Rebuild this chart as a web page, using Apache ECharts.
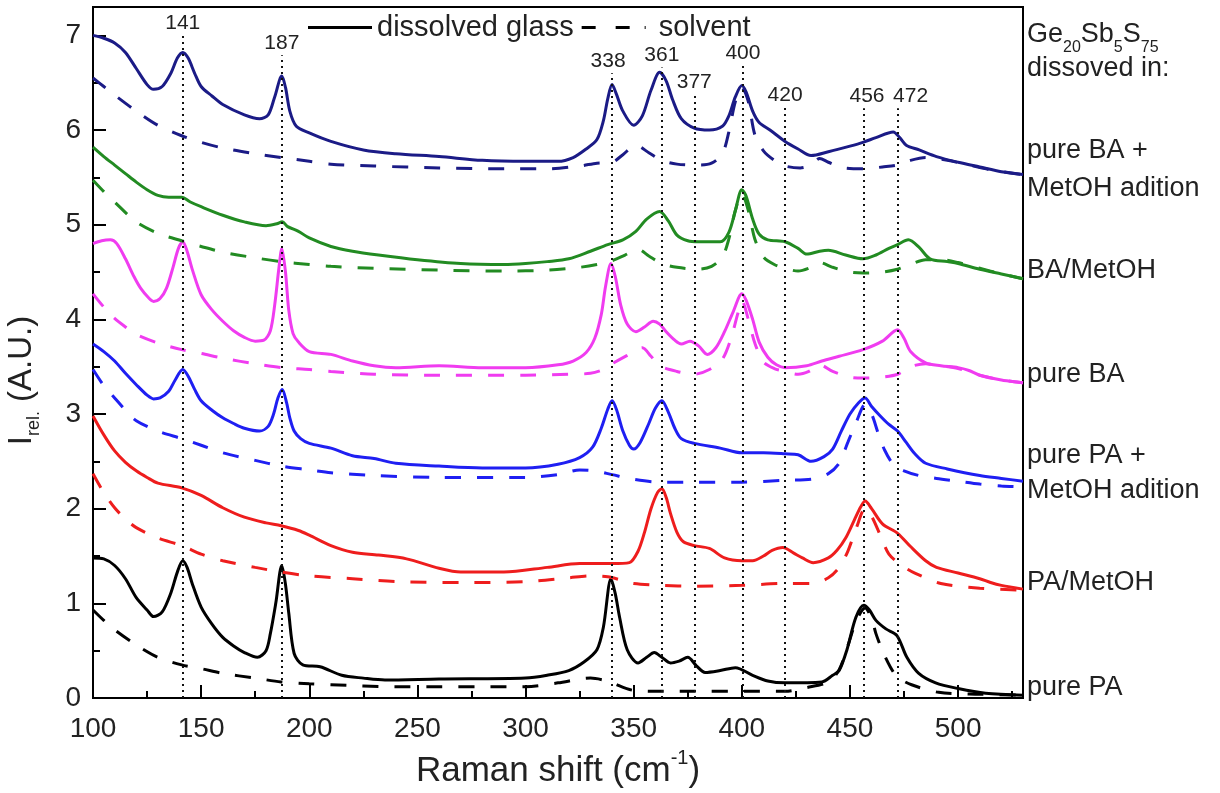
<!DOCTYPE html>
<html>
<head>
<meta charset="utf-8">
<title>Raman spectra of Ge20Sb5S75 solutions</title>
<script src="https://cdn.jsdelivr.net/npm/echarts@6/dist/echarts.min.js"></script>
<style>
  html, body { margin: 0; padding: 0; background: #fff; }
  #chart { width: 1220px; height: 793px; }
</style>
</head>
<body>
<div id="chart"></div>
<script>
// Raman shift (cm-1) vs relative intensity, each curve as [shift, intensity]
const glassPA = [[100,1.48],[105,1.47],[110,1.4],[115,1.26],[120,1.06],[125,0.93],[128,0.86],[132,0.91],[136,1.11],[139,1.33],[141.5,1.45],[143.5,1.38],[146,1.2],[150,0.96],[155,0.78],[160,0.64],[165,0.55],[170,0.48],[176,0.43],[180,0.5],[182,0.68],[184.5,1.0],[187.3,1.4],[189,1.2],[190.5,0.9],[193,0.47],[197,0.35],[205,0.33],[215,0.24],[225,0.21],[235,0.19],[260,0.2],[300,0.21],[310,0.24],[320,0.29],[327,0.38],[333,0.51],[336,0.75],[339.5,1.26],[341.5,1.1],[343.5,0.85],[347,0.51],[352,0.37],[356,0.43],[359.5,0.48],[363,0.43],[367,0.37],[371,0.39],[375,0.43],[379,0.34],[383,0.27],[390,0.29],[397,0.32],[405,0.24],[412,0.18],[420,0.16],[437,0.17],[442,0.24],[445,0.29],[448.6,0.51],[452.7,0.85],[456.4,0.98],[459,0.93],[462,0.82],[466.6,0.73],[471.7,0.66],[476.3,0.43],[481.8,0.26],[489.6,0.16],[500,0.1],[512.7,0.05],[530,0.03]];
const solventPA = [[100,0.93],[105,0.82],[110,0.72],[120,0.56],[130,0.43],[141,0.35],[150,0.31],[160,0.26],[175,0.21],[187,0.17],[200,0.15],[210,0.14],[240,0.12],[300,0.12],[315,0.16],[325,0.2],[330,0.21],[336,0.19],[340,0.16],[350,0.08],[363,0.07],[420,0.07],[430,0.11],[440,0.17],[445,0.3],[449,0.55],[453,0.82],[457,0.95],[460,0.84],[462,0.68],[465,0.5],[468.6,0.33],[472,0.22],[478.5,0.14],[491,0.06],[510,0.04],[530,0.03]];

const glassPAMet = [[100,2.98],[105,2.78],[110,2.61],[115,2.49],[120,2.4],[125,2.33],[130,2.27],[141,2.22],[150,2.14],[160,2.01],[170,1.91],[180,1.85],[187,1.82],[195,1.77],[200,1.72],[210,1.61],[220,1.54],[232,1.51],[245,1.47],[260,1.37],[270,1.33],[290,1.33],[310,1.38],[325,1.42],[340,1.42],[348,1.43],[352,1.55],[355,1.75],[358,2.0],[361,2.17],[363,2.21],[365,2.12],[367,1.95],[370,1.75],[373,1.65],[378,1.61],[385,1.58],[392,1.48],[400,1.45],[405,1.45],[410,1.5],[414,1.56],[419,1.59],[424,1.53],[428,1.48],[433,1.43],[440,1.48],[444,1.56],[448,1.69],[452,1.88],[455,2.02],[457,2.08],[460,2.0],[465,1.84],[472,1.74],[478,1.6],[485,1.45],[490,1.38],[500,1.32],[510,1.26],[515,1.22],[520,1.19],[530,1.15]];
const solventPAMet = [[100,2.37],[105,2.17],[110,2.01],[115,1.89],[120,1.8],[130,1.69],[141,1.61],[150,1.52],[160,1.45],[175,1.38],[187,1.33],[200,1.29],[220,1.26],[240,1.23],[270,1.22],[300,1.23],[320,1.27],[330,1.29],[338,1.28],[345,1.24],[350,1.21],[363,1.19],[378,1.18],[400,1.19],[420,1.21],[433,1.21],[440,1.27],[445,1.38],[449,1.55],[453,1.8],[457,2.0],[460,1.92],[464,1.72],[468,1.52],[474,1.4],[480,1.32],[492,1.21],[510,1.16],[530,1.14]];

const glassPAadd = [[100,3.74],[105,3.66],[110,3.56],[115,3.43],[120,3.31],[125,3.2],[128,3.16],[131,3.17],[135,3.24],[138,3.36],[141.5,3.47],[144,3.4],[147,3.26],[150,3.14],[155,3.04],[160,2.96],[165,2.9],[170,2.85],[177,2.82],[181,2.87],[183.5,3.0],[185.5,3.17],[187.5,3.26],[189.5,3.12],[191,2.96],[193,2.82],[196,2.74],[200,2.69],[210,2.64],[220,2.56],[230,2.53],[240,2.48],[260,2.45],[280,2.43],[300,2.43],[315,2.47],[325,2.54],[331,2.65],[335,2.85],[338,3.05],[340,3.14],[342,3.05],[345,2.82],[348,2.67],[350,2.63],[353,2.7],[357,2.9],[360,3.06],[363,3.14],[366,3.02],[369,2.85],[372,2.74],[378,2.69],[390,2.64],[400,2.59],[410,2.59],[420,2.58],[426,2.57],[432,2.5],[438,2.55],[442,2.63],[446,2.82],[450,3.0],[454,3.12],[457,3.17],[460,3.08],[464,2.98],[468,2.89],[472,2.82],[476,2.7],[480,2.58],[485,2.48],[495,2.42],[510,2.35],[520,2.32],[530,2.29]];
const solventPAadd = [[100,3.47],[105,3.3],[110,3.17],[115,3.04],[120,2.93],[130,2.82],[141,2.74],[150,2.67],[160,2.59],[175,2.51],[187,2.45],[200,2.41],[210,2.38],[230,2.35],[260,2.33],[300,2.33],[315,2.36],[325,2.41],[332,2.4],[340,2.36],[350,2.31],[362,2.28],[378,2.28],[400,2.28],[420,2.3],[432,2.31],[440,2.37],[445,2.48],[449,2.7],[453,2.92],[457,3.1],[460,3.0],[463,2.8],[466,2.62],[470,2.47],[475,2.4],[482,2.35],[490,2.32],[500,2.29],[510,2.26],[520,2.24],[530,2.23]];

const glassBA = [[100,4.8],[104,4.83],[108,4.84],[111,4.8],[115,4.64],[119,4.45],[122,4.33],[126,4.22],[128,4.19],[131,4.22],[134,4.33],[137,4.55],[139.5,4.75],[141.5,4.82],[143.5,4.72],[146,4.52],[150,4.26],[155,4.1],[160,3.98],[165,3.88],[170,3.81],[175,3.77],[179,3.78],[182,3.88],[184,4.15],[186,4.55],[187.3,4.75],[189,4.5],[190.5,4.1],[192.5,3.85],[195,3.76],[200,3.66],[210,3.63],[220,3.56],[230,3.51],[240,3.49],[260,3.51],[280,3.49],[300,3.49],[315,3.52],[322,3.56],[328,3.65],[332,3.8],[335,4.05],[337,4.35],[339.5,4.59],[341.5,4.45],[344,4.15],[347,3.95],[351,3.87],[355,3.92],[359,3.98],[362,3.95],[365,3.87],[369,3.78],[372,3.74],[376,3.77],[380,3.72],[384,3.63],[388,3.7],[392,3.87],[396,4.08],[400,4.27],[402,4.2],[405,4.0],[408,3.76],[412,3.6],[416,3.52],[420,3.49],[430,3.51],[437,3.56],[445,3.61],[456,3.68],[465,3.77],[472,3.89],[475,3.8],[478,3.66],[485,3.54],[492,3.51],[500,3.49],[505,3.46],[510,3.41],[520,3.36],[530,3.33]];
const solventBA = [[100,4.27],[105,4.13],[110,4.01],[115,3.92],[120,3.84],[130,3.75],[141,3.68],[150,3.64],[160,3.59],[175,3.53],[187,3.49],[200,3.47],[210,3.45],[230,3.42],[260,3.41],[300,3.41],[320,3.42],[330,3.43],[336,3.47],[340,3.53],[347,3.62],[354,3.7],[358,3.61],[362,3.51],[370,3.45],[378,3.42],[385,3.47],[391,3.58],[395,3.8],[398,4.05],[400,4.2],[403,4.0],[406,3.75],[410,3.55],[415,3.48],[420,3.45],[426,3.42],[431,3.45],[436,3.52],[442,3.45],[450,3.39],[456,3.38],[465,3.39],[472,3.42],[478,3.5],[485,3.53],[492,3.51],[500,3.48],[510,3.41],[520,3.36],[530,3.33]];

const glassBAMet = [[100,5.82],[105,5.72],[110,5.63],[115,5.54],[120,5.45],[125,5.37],[130,5.31],[135,5.29],[141,5.29],[145,5.24],[150,5.19],[160,5.1],[170,5.03],[180,4.99],[185,5.01],[187.5,5.03],[190,4.98],[195,4.93],[200,4.86],[210,4.77],[220,4.72],[232,4.68],[250,4.63],[270,4.59],[290,4.58],[300,4.59],[310,4.61],[320,4.64],[330,4.72],[338,4.79],[345,4.84],[351,4.93],[356,5.06],[362,5.14],[366,5.04],[370,4.89],[375,4.83],[380,4.82],[390,4.82],[394,4.92],[397,5.15],[400,5.37],[402,5.3],[405,5.06],[408,4.9],[412,4.84],[420,4.82],[426,4.75],[430,4.69],[436,4.72],[440,4.73],[448,4.68],[456,4.64],[462,4.68],[468,4.75],[472,4.79],[477,4.84],[482,4.76],[487,4.64],[495,4.61],[500,4.59],[510,4.53],[520,4.48],[530,4.43]];
const solventBAMet = [[100,5.47],[105,5.35],[110,5.24],[120,5.03],[130,4.91],[141,4.83],[150,4.77],[160,4.71],[175,4.65],[187,4.61],[200,4.58],[210,4.56],[230,4.54],[260,4.52],[290,4.51],[310,4.52],[325,4.55],[333,4.58],[340,4.62],[346,4.68],[352,4.74],[357,4.67],[363,4.59],[370,4.55],[380,4.53],[386,4.56],[391,4.66],[394,4.85],[397,5.15],[400,5.33],[403,5.15],[406,4.85],[410,4.66],[415,4.58],[420,4.54],[426,4.51],[431,4.54],[436,4.6],[442,4.55],[450,4.5],[456,4.49],[465,4.5],[472,4.53],[478,4.58],[485,4.63],[492,4.63],[500,4.6],[510,4.54],[520,4.48],[530,4.43]];

const glassBAadd = [[100,7.0],[105,6.97],[110,6.92],[115,6.82],[120,6.65],[125,6.48],[128,6.43],[132,6.46],[136,6.6],[139,6.76],[141.5,6.82],[144,6.76],[147,6.6],[150,6.46],[155,6.36],[160,6.27],[170,6.16],[177,6.12],[181,6.16],[184,6.35],[187.3,6.57],[189,6.45],[191,6.2],[194,6.04],[200,5.97],[210,5.88],[225,5.79],[240,5.75],[260,5.72],[280,5.68],[300,5.67],[315,5.67],[322,5.71],[328,5.8],[333,5.9],[336,6.1],[338,6.33],[340,6.48],[342,6.38],[345,6.2],[350,6.05],[354,6.15],[358,6.42],[362,6.61],[365,6.52],[368,6.32],[372,6.12],[378,6.02],[385,6.0],[391,6.04],[394,6.15],[397,6.35],[400,6.47],[402,6.4],[405,6.2],[408,6.08],[413,6.0],[420,5.88],[426,5.8],[432,5.73],[440,5.77],[450,5.83],[456,5.87],[462,5.92],[470,5.98],[473,5.92],[476,5.84],[482,5.79],[490,5.72],[500,5.66],[510,5.61],[520,5.56],[530,5.53]];
const solventBAadd = [[100,6.55],[105,6.46],[110,6.37],[120,6.2],[130,6.05],[141,5.94],[150,5.87],[160,5.81],[175,5.75],[187,5.71],[200,5.67],[210,5.64],[230,5.62],[260,5.6],[290,5.59],[310,5.59],[325,5.62],[333,5.65],[340,5.66],[345,5.74],[351,5.84],[357,5.76],[363,5.68],[370,5.64],[380,5.63],[386,5.65],[391,5.75],[394,5.98],[397,6.3],[400,6.45],[403,6.3],[406,5.95],[410,5.78],[415,5.68],[420,5.62],[427,5.6],[432,5.63],[436,5.7],[440,5.66],[447,5.6],[456,5.59],[465,5.61],[472,5.63],[478,5.68],[485,5.71],[495,5.68],[505,5.63],[515,5.58],[530,5.53]];

// peak markers: where the dotted line sits, its printed label, and how high it reaches
const peakShift = [141.5, 187.3, 340, 363, 378, 400.5, 420, 456.5, 472];
const peakText = ['141', '187', '338', '361', '377', '400', '420', '456', '472'];
const peakTop = [7.0, 6.79, 6.6, 6.66, 6.37, 6.68, 6.24, 6.23, 6.23];
// small sideways nudges of a few labels, as printed ([left, right] padding)
const peakNudge = { '338': [0, 8], '456': [6, 0], '472': [26, 0] };

const sampleLabels = ['pure BA +', 'MetOH adition', 'BA/MetOH', 'pure BA', 'pure PA +', 'MetOH adition', 'PA/MetOH', 'pure PA'];

const FONT = 'Liberation Sans, Arial, Helvetica, sans-serif';

const chart = echarts.init(document.getElementById('chart'));

function curve(name, data, color, dashed) {
  return {
    name: name,
    type: 'line',
    data: data,
    symbol: 'none',
    smooth: 0.3,
    silent: true,
    lineStyle: { color: color, width: 3, type: dashed ? [16, 16] : 'solid' },
    itemStyle: { color: color }
  }
}

const peakLines = peakShift.map((x, i) => {
  const nudge = peakNudge[peakText[i]] || [0, 0];
  return [
    { coord: [x, 0] },
    { coord: [x, peakTop[i]], label: { formatter: peakText[i], padding: [0, nudge[1], 0, nudge[0]] } }
  ];
});

const series = [
  curve('dissolved glass', glassPA, '#000000', false),
  curve('solvent', solventPA, '#000000', true),
  curve('dissolved glass', glassPAMet, '#ee1d1d', false),
  curve('solvent', solventPAMet, '#ee1d1d', true),
  curve('dissolved glass', glassPAadd, '#1f1ff2', false),
  curve('solvent', solventPAadd, '#1f1ff2', true),
  curve('dissolved glass', glassBA, '#f03cf0', false),
  curve('solvent', solventBA, '#f03cf0', true),
  curve('dissolved glass', glassBAMet, '#228b22', false),
  curve('solvent', solventBAMet, '#228b22', true),
  curve('dissolved glass', glassBAadd, '#1b1b86', false),
  curve('solvent', solventBAadd, '#1b1b86', true)
];

// dotted peak guides hang off the first curve
series[0].markLine = {
  silent: true,
  symbol: 'none',
  animation: false,
  lineStyle: { color: '#111', type: [2, 4], width: 2 },
  label: { show: true, position: 'end', distance: 2, fontSize: 21, color: '#222', fontFamily: FONT },
  data: peakLines
};

const sideY = [152, 190, 272, 376, 457, 492, 584, 689];

const option = {
  animation: false,
  backgroundColor: '#fff',
  grid: {
    left: 93, right: 197, top: 7, bottom: 95,
    outerBoundsMode: 'none',
    show: true, borderColor: '#000', borderWidth: 2
  },
  legend: {
    data: [
      { name: 'dissolved glass', icon: 'path://M0,0H64V3H0Z' },
      { name: 'solvent', icon: 'path://M0,0H14V3H0ZM34,0H48V3H34ZM63,0H64V3H63Z' }
    ],
    formatter: name => (name === 'solvent' ? ' ' + name : name),
    left: 303,
    top: 8,
    itemWidth: 64,
    itemHeight: 3,
    itemGap: 8,
    textStyle: { fontSize: 29, color: '#222', fontFamily: FONT },
    selectedMode: false
  },
  xAxis: [
    {
      type: 'value', min: 100, max: 530, interval: 50,
      name: 'Raman shift (cm{sup|-1})',
      nameLocation: 'middle', nameGap: 50,
      nameTextStyle: {
        fontSize: 35, color: '#222', fontFamily: FONT, lineHeight: 46,
        rich: { sup: { fontSize: 20, verticalAlign: 'top', lineHeight: 18, color: '#222', fontFamily: FONT } }
      },
      axisLine: { lineStyle: { color: '#000', width: 2 } },
      axisTick: { inside: true, length: 13, lineStyle: { color: '#000', width: 2 } },
      axisLabel: { fontSize: 28, color: '#222', fontFamily: FONT, margin: 17, showMaxLabel: false },
      splitLine: { show: false }
    },
    {
      type: 'value', min: 100, max: 530, interval: 25, position: 'bottom',
      axisLine: { show: false },
      axisTick: { inside: true, length: 7, lineStyle: { color: '#000', width: 2 } },
      axisLabel: { show: false },
      splitLine: { show: false }
    }
  ],
  yAxis: [
    {
      type: 'value', min: 0, max: 7.3, interval: 1,
      name: 'I{sub|rel.} (A.U.)',
      nameLocation: 'middle', nameGap: 50,
      nameTextStyle: {
        fontSize: 33, color: '#222', fontFamily: FONT, lineHeight: 42,
        padding: [0, 56, 0, 0],
        rich: { sub: { fontSize: 18, verticalAlign: 'bottom', lineHeight: 16, color: '#222', fontFamily: FONT } }
      },
      axisLine: { lineStyle: { color: '#000', width: 2 } },
      axisTick: { inside: true, length: 13, lineStyle: { color: '#000', width: 2 } },
      axisLabel: { fontSize: 28, color: '#222', fontFamily: FONT, margin: 12, showMaxLabel: false },
      splitLine: { show: false }
    },
    {
      type: 'value', min: 0, max: 7.3, interval: 0.5, position: 'left',
      axisLine: { show: false },
      axisTick: { inside: true, length: 7, lineStyle: { color: '#000', width: 2 } },
      axisLabel: { show: false },
      splitLine: { show: false }
    }
  ],
  graphic: [
    {
      type: 'text', left: 1027, top: 14,
      style: {
        text: 'Ge{s|20}Sb{s|5}S{s|75}',
        fontSize: 27, fontFamily: FONT, fill: '#222', lineHeight: 42,
        rich: { s: { fontSize: 16, verticalAlign: 'bottom', lineHeight: 14, fontFamily: FONT, fill: '#222' } }
      }
    },
    { type: 'text', left: 1027, top: 55, style: { text: 'dissoved in:', fontSize: 27, fontFamily: FONT, fill: '#222' } }
  ].concat(sampleLabels.map((t, i) => ({
    type: 'text', left: 1027, top: sideY[i] - 15,
    style: { text: t, fontSize: 27, fontFamily: FONT, fill: '#222' }
  }))),
  series: series
};

chart.setOption(option);
window.addEventListener('resize', () => chart.resize());
</script>
</body>
</html>
